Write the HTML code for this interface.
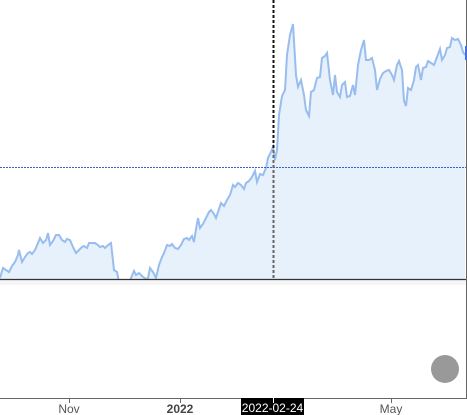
<!DOCTYPE html>
<html><head><meta charset="utf-8"><style>
html,body{margin:0;padding:0;background:#fff;width:467px;height:415px;overflow:hidden;font-family:"Liberation Sans",sans-serif}
svg{display:block}
</style></head><body>
<svg id="chart" width="467" height="415">
<rect x="0" y="280" width="466" height="5" fill="#f6f6f6"/>
<line x1="466.5" y1="0" x2="466.5" y2="398" stroke="#666"/>
<line x1="0" y1="398.5" x2="467" y2="398.5" stroke="#666"/>
<g id="series"></g>
<line x1="0" y1="279.5" x2="466" y2="279.5" stroke="#333" stroke-width="1.2"/>
<line x1="0" y1="167.5" x2="466" y2="167.5" stroke="#3a5fc8" stroke-dasharray="2,1"/>
<line x1="273.5" y1="0" x2="273.5" y2="150" stroke="#111" stroke-width="2" stroke-dasharray="3,2"/>
<line x1="273.5" y1="150" x2="273.5" y2="279" stroke="#666" stroke-width="2" stroke-dasharray="3,2"/>
<rect x="465" y="46" width="2" height="14" fill="#4a6fe0"/>
<circle cx="445" cy="369" r="14" fill="#999"/>
<g id="xaxis" font-size="12" fill="#555"></g>
<rect x="241" y="398" width="63" height="17" fill="#000"/>
<line x1="273.5" y1="398" x2="273.5" y2="403" stroke="#fff"/>
<text x="272.5" y="412" font-size="12" fill="#fff" text-anchor="middle">2022-02-24</text>
</svg>
<script>
const days=[0,3,6,9,12,15,18,19,22,25,28,30,32,35,38,40,43,46,48,50,53,56,59,62,65,67,70,73,76,79,82,84,87,89,92,95,98,100,103,105,108,111,114,117,119,122,128,131,134,136,139,142,146,148,150,153,156,159,162,164,167,170,172,175,178,181,184,187,189,192,194,196,198,200,203,206,209,211,214,216,219,221,224,227,230,233,235,238,241,244,246,249,252,255,257,260,263,266,268,271,273,275,277,279,282,285,287,290,293,296,298,301,304,306,309,311,314,317,320,322,325,327,330,333,335,337,340,342,345,347,350,353,355,358,361,364,366,369,372,375,377,380,383,386,389,392,394,397,399,402,404,406,408,411,414,416,418,421,423,426,428,431,434,437,440,442,445,447,450,452,455,458,461,463,465];
const ys=[278,268,270,272,266,262,255,250,262,257,253,252,254,250,243,238,243,240,233,245,241,235,235,240,242,239,240,247,253,250,247,246,248,243,243,243,245,247,246,248,245,243,270,272,282,290,290,278,271,275,273,276,279,278,268,272,278,265,257,253,245,246,244,248,249,245,239,238,240,236,242,229,218,228,224,218,212,210,214,218,209,203,206,200,195,185,187,183,185,189,183,181,177,171,182,174,175,168,158,152,147,160,150,115,96,90,55,35,24,75,87,80,95,110,116,92,90,78,77,58,56,53,80,95,75,92,97,85,82,97,96,85,95,65,50,40,60,60,58,70,90,79,73,71,70,75,80,65,61,70,101,106,88,90,80,67,65,80,68,67,61,63,65,57,49,60,55,48,47,38,40,39,45,52,55];
const values=ys.map(y=>279-y);
const tickLabels=["Nov","2022","May"];
const tickDays=[69,180,391];
const xS=d=>d*(465/465), yS=v=>279-v;
const NS="http://www.w3.org/2000/svg";
const g=document.getElementById('series');
const cp=document.createElementNS(NS,'clipPath');cp.setAttribute('id','clip');
const cr=document.createElementNS(NS,'rect');cr.setAttribute('x',0);cr.setAttribute('y',0);cr.setAttribute('width',466);cr.setAttribute('height',279);
cp.appendChild(cr);g.appendChild(cp);
let pts=days.map((d,i)=>xS(d).toFixed(1)+','+yS(values[i]).toFixed(1));
const area=document.createElementNS(NS,'path');
area.setAttribute('d','M'+xS(days[0])+',279 L'+pts.join(' L')+' L'+xS(days[days.length-1])+',279 Z');
area.setAttribute('fill','#e6f1fc');area.setAttribute('clip-path','url(#clip)');


g.appendChild(area);
const line=document.createElementNS(NS,'path');
line.setAttribute('d','M'+pts.join(' L'));
line.setAttribute('fill','none');line.setAttribute('stroke','#98bdee');line.setAttribute('stroke-width','2');line.setAttribute('clip-path','url(#clip)');


g.appendChild(line);
const xa=document.getElementById('xaxis');
tickLabels.forEach((t,i)=>{
  const x=xS(tickDays[i]);
  const tk=document.createElementNS(NS,'line');
  tk.setAttribute('x1',x+0.5);tk.setAttribute('x2',x+0.5);tk.setAttribute('y1',398);tk.setAttribute('y2',403);tk.setAttribute('stroke','#666');
  
  
  xa.appendChild(tk);
  const tx=document.createElementNS(NS,'text');
  tx.setAttribute('x',x);tx.setAttribute('y',413);tx.setAttribute('text-anchor','middle');
  if(t==='2022'){tx.setAttribute('font-weight','bold');tx.setAttribute('fill','#444');}
  tx.textContent=t;
  
  
  xa.appendChild(tx);
});
</script>
</body></html>
